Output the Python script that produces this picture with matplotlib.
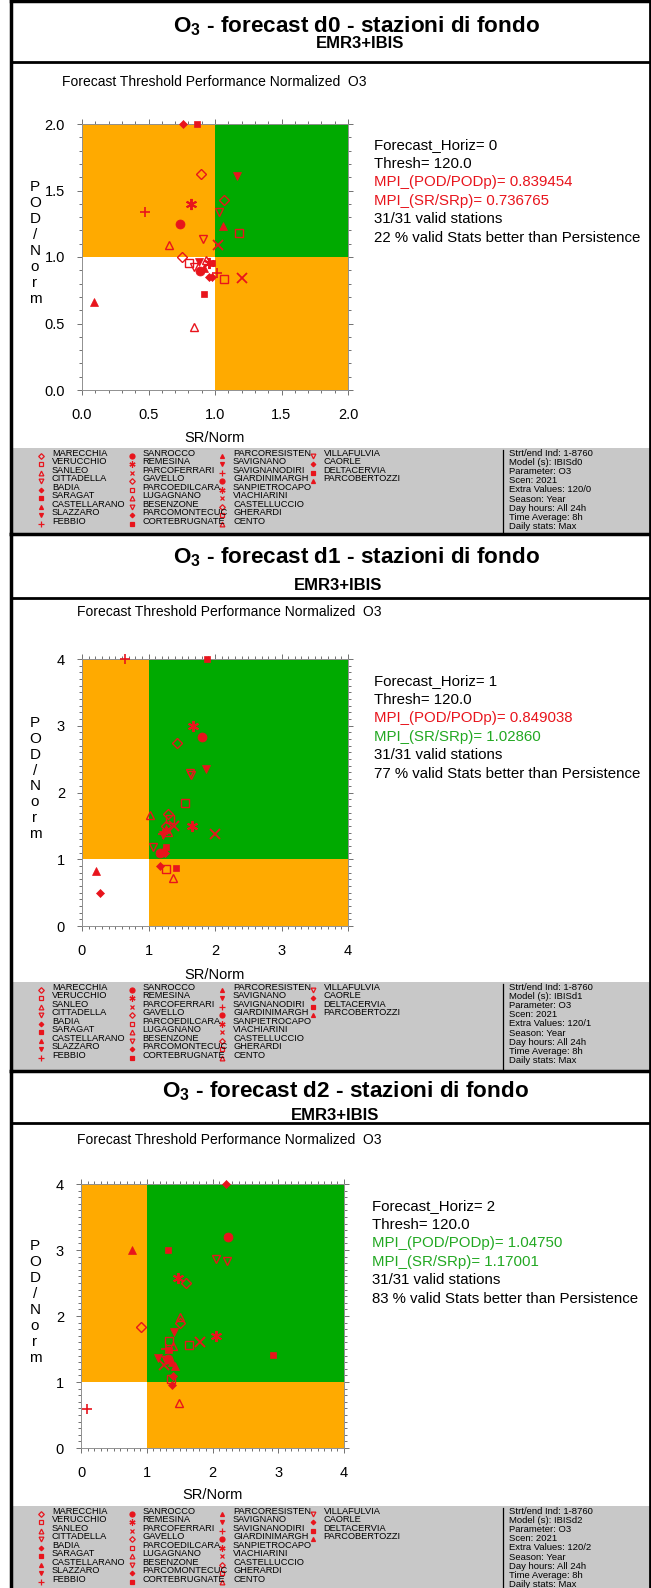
import matplotlib
matplotlib.use('Agg')
import matplotlib.pyplot as plt
from matplotlib.patches import Rectangle
from matplotlib.ticker import MultipleLocator

plt.rcParams['font.family'] = ['Liberation Sans', 'DejaVu Sans']
plt.rcParams['mathtext.fontset'] = 'custom'
plt.rcParams['mathtext.rm'] = 'Liberation Sans'
plt.rcParams['mathtext.bf'] = 'Liberation Sans:bold'

W, H = 651, 1588

stations = ['MARECCHIA', 'VERUCCHIO', 'SANLEO', 'CITTADELLA', 'BADIA', 'SARAGAT',
            'CASTELLARANO', 'SLAZZARO', 'FEBBIO',
            'SANROCCO', 'REMESINA', 'PARCOFERRARI', 'GAVELLO', 'PARCOEDILCARA',
            'LUGAGNANO', 'BESENZONE', 'PARCOMONTECUC', 'CORTEBRUGNATE',
            'PARCORESISTEN', 'SAVIGNANO', 'SAVIGNANODIRI', 'GIARDINIMARGH',
            'SANPIETROCAPO', 'VIACHIARINI', 'CASTELLUCCIO', 'GHERARDI', 'CENTO',
            'VILLAFULVIA', 'CAORLE', 'DELTACERVIA', 'PARCOBERTOZZI']

# SR/Norm and POD/Norm per station, forecast day 0, 1, 2
sr_d0 = [0.892, 1.18, 0.652, 1.03, 0.76, 0.865, 1.063, 1.163, 0.471, 0.734, 0.817, 1.02,
         1.065, 0.805, 0.84, 0.912, 0.952, 0.98, 0.088, 0.877, 1.015, 0.89, 0.952, 1.203,
         0.749, 1.07, 0.93, 0.845, 0.975, 0.92, 0.92]
pod_d0 = [1.626, 1.179, 1.092, 1.335, 2.0, 2.0, 1.23, 1.606, 1.335, 1.247, 1.398, 1.092,
          1.43, 0.954, 0.477, 1.134, 0.853, 0.954, 0.66, 0.959, 0.878, 0.891, 0.954, 0.84,
          0.999, 0.836, 0.975, 0.928, 0.846, 0.723, 0.916]

sr_d1 = [1.424, 1.549, 1.023, 1.63, 1.253, 1.88, 0.205, 1.87, 0.652, 1.805, 1.669, 1.39,
         1.298, 1.33, 1.30, 1.64, 1.178, 1.258, 1.26, 1.213, 1.22, 1.168, 1.654, 1.995,
         1.27, 1.268, 1.368, 1.063, 0.266, 1.413, 1.24]
pod_d1 = [2.74, 1.85, 1.66, 2.295, 1.1, 4.0, 0.825, 2.345, 4.0, 2.83, 3.0, 1.505,
          1.675, 1.61, 1.41, 2.26, 0.9, 1.185, 1.45, 1.36, 1.38, 1.1, 1.495, 1.375,
          1.505, 0.85, 0.725, 1.185, 0.5, 0.875, 1.15]

sr_d2 = [1.59, 1.64, 1.504, 2.05, 2.203, 1.327, 0.78, 1.418, 1.30, 2.238, 1.478, 1.808,
         1.504, 1.337, 1.392, 2.223, 1.392, 1.34, 1.39, 1.165, 0.096, 1.327, 2.046, 1.26,
         0.92, 1.362, 1.494, 1.30, 1.377, 2.92, 1.428]
pod_d2 = [2.497, 1.564, 1.99, 2.865, 4.0, 3.0, 3.0, 1.755, 1.50, 3.203, 2.573, 1.6,
          1.90, 1.62, 1.55, 2.84, 1.095, 1.49, 1.31, 1.362, 0.59, 1.347, 1.69, 1.26,
          1.83, 1.044, 0.681, 1.33, 0.948, 1.402, 1.246]

horiz = [0, 1, 2]
mpi_pod = ['0.839454', '0.849038', '1.04750']
mpi_sr = ['0.736765', '1.02860', '1.17001']
better = [22, 77, 83]
ax_max = [2.0, 4.0, 4.0]

RED = '#e8141c'
GREEN_TXT = '#22a822'
ORANGE = '#ffaa00'
GREEN = '#00aa00'

# marker cycle used for the stations
SYMS = [dict(marker='D', ms=5.2, mfc='none', mew=1.0),
        dict(marker='s', ms=5.7, mfc='none', mew=1.0),
        dict(marker='^', ms=6.2, mfc='none', mew=1.0),
        dict(marker='v', ms=6.2, mfc='none', mew=1.0),
        dict(marker='D', ms=4.2, mfc=RED, mew=0.5),
        dict(marker='s', ms=4.7, mfc=RED, mew=0.5),
        dict(marker='^', ms=5.2, mfc=RED, mew=0.5),
        dict(marker='v', ms=5.2, mfc=RED, mew=0.5),
        dict(marker='+', ms=7, mfc='none', mew=1.2),
        dict(marker='o', ms=6.5, mfc=RED, mew=0.5),
        dict(marker=(6, 2, 0), ms=8, mfc='none', mew=1.4),
        dict(marker='x', ms=6.5, mfc='none', mew=1.3)]

# ty / sy are text baselines of the title and of the model line
panels = [
    dict(sr=sr_d0, pod=pod_d0, top=1, ty=32, tx=356, sy=48.5, sx=360, sep=62, hy=82, hx=62,
         box=(82, 124, 348, 390), srn=438, gray=(448, 534), iy=145, ix=374),
    dict(sr=sr_d1, pod=pod_d1, top=534, ty=563, tx=356, sy=590, sx=338, sep=598, hy=612,
         hx=77, box=(82, 659, 348, 926), srn=975, gray=(982, 1070), iy=681, ix=374),
    dict(sr=sr_d2, pod=pod_d2, top=1071, ty=1097, tx=345, sy=1120, sx=335, sep=1123,
         hy=1140, hx=77, box=(81, 1184, 344, 1448), srn=1495, gray=(1506, 1588),
         iy=1206, ix=372),
]

fig = plt.figure(figsize=(W / 100, H / 100), dpi=100)
bg = fig.add_axes([0, 0, 1, 1])
bg.set_xlim(0, W)
bg.set_ylim(H, 0)
bg.axis('off')

for k, p in enumerate(panels):
    bottom = panels[k + 1]['top'] if k < 2 else H
    # frame
    bg.plot([11, 650], [p['top'], p['top']], color='k', lw=2.5)
    bg.plot([11, 650], [p['sep'], p['sep']], color='k', lw=2)
    bg.plot([11, 11], [p['top'], bottom], color='k', lw=2.5)
    bg.plot([650, 650], [p['top'], bottom], color='k', lw=2)

    bg.text(p['tx'], p['ty'], r'O$_\mathbf{3}$ - forecast d%d - stazioni di fondo' % horiz[k],
            fontsize=16.2, fontweight='bold', ha='center', va='baseline')
    bg.text(p['sx'], p['sy'], 'EMR3+IBIS', fontsize=12, fontweight='bold',
            ha='center', va='baseline')
    bg.text(p['hx'], p['hy'], 'Forecast Threshold Performance Normalized  O3',
            fontsize=10, ha='left', va='center')

    x0, y0, x1, y1 = p['box']
    ax = fig.add_axes([x0 / W, 1 - y1 / H, (x1 - x0) / W, (y1 - y0) / H])
    m = ax_max[k]
    ax.set_xlim(0, m)
    ax.set_ylim(0, m)
    ax.add_patch(Rectangle((0, 1), 1, m - 1, color=ORANGE, lw=0, zorder=0))
    ax.add_patch(Rectangle((1, 1), m - 1, m - 1, color=GREEN, lw=0, zorder=0))
    ax.add_patch(Rectangle((1, 0), m - 1, 1, color=ORANGE, lw=0, zorder=0))
    if m == 2.0:
        ax.xaxis.set_major_locator(MultipleLocator(0.5))
        ax.yaxis.set_major_locator(MultipleLocator(0.5))
        ax.xaxis.set_major_formatter('{x:.1f}')
        ax.yaxis.set_major_formatter('{x:.1f}')
    else:
        ax.xaxis.set_major_locator(MultipleLocator(1))
        ax.yaxis.set_major_locator(MultipleLocator(1))
        ax.xaxis.set_major_formatter('{x:.0f}')
        ax.yaxis.set_major_formatter('{x:.0f}')
    ax.xaxis.set_minor_locator(MultipleLocator(0.1))
    ax.yaxis.set_minor_locator(MultipleLocator(0.1))
    ax.tick_params(which='both', direction='out', top=True, right=True,
                   color='#707070', width=0.7, labelsize=10.5)
    ax.tick_params(which='major', length=3.8)
    ax.tick_params(which='minor', length=2.2)
    ax.tick_params(axis='x', pad=9.5)
    ax.tick_params(axis='y', pad=8.5)
    for s in ax.spines.values():
        s.set_color('#909090')
        s.set_linewidth(0.7)

    for i in range(len(stations)):
        st = SYMS[i % 12]
        ax.plot(p['sr'][i], p['pod'][i], linestyle='none', color=RED, mec=RED,
                clip_on=False, zorder=3, **st)

    cy = (y0 + y1) / 2 - 14
    bg.text(35, cy, 'P\nO\nD\n/\nN\no\nr\nm', fontsize=11, ha='center', va='center',
            linespacing=1.17)
    bg.text((x0 + x1) / 2, p['srn'], 'SR/Norm', fontsize=10.5, ha='center', va='center')

    # info lines on the right
    lines = ['Forecast_Horiz= %d' % horiz[k], 'Thresh= 120.0',
             'MPI_(POD/PODp)= ' + mpi_pod[k], 'MPI_(SR/SRp)= ' + mpi_sr[k],
             '31/31 valid stations',
             '%d %% valid Stats better than Persistence' % better[k]]
    cols = ['k', 'k',
            RED if float(mpi_pod[k]) < 1 else GREEN_TXT,
            RED if float(mpi_sr[k]) < 1 else GREEN_TXT, 'k', 'k']
    for j, (t, c) in enumerate(zip(lines, cols)):
        bg.text(p['ix'], p['iy'] + j * 18.6, t, fontsize=10.8, color=c,
                ha='left', va='center')

    # legend strip
    g0, g1 = p['gray']
    bg.add_patch(Rectangle((12, g0), W - 12, g1 - g0, color='#c8c8c8', lw=0, zorder=0))
    for i, name in enumerate(stations):
        col, row = divmod(i, 9)
        yy = g0 + 5 + row * 8.55
        xm = 41 + col * 90.5
        st = dict(SYMS[i % 12])
        st['ms'] = st['ms'] * 0.55
        st['mew'] = 0.9
        bg.plot(xm, yy + 2.5, linestyle='none', color=RED, mec=RED, **st)
        bg.text(xm + 11, yy, name, fontsize=6.7, ha='left', va='center')
    bg.plot([503, 503], [g0 + 2, g1], color='k', lw=0.9)
    info = ['Strt/end Ind: 1-8760', 'Model (s): IBISd%d' % horiz[k], 'Parameter: O3',
            'Scen: 2021', 'Extra Values: 120/%d' % horiz[k], 'Season: Year',
            'Day hours: All 24h', 'Time Average: 8h', 'Daily stats: Max']
    for j, t in enumerate(info):
        bg.text(509, g0 + 5 + j * 9.2, t, fontsize=6.8, ha='left', va='center')

fig.savefig('out.png', dpi=100)
